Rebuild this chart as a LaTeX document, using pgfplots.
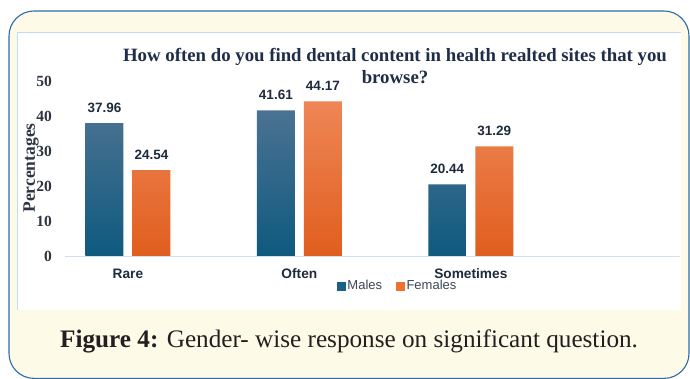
\documentclass[border=0pt]{standalone}
\usepackage{pgfplots}
\pgfplotsset{compat=1.18}
\usepackage{fontspec}
\setmainfont{Liberation Serif}
\setsansfont{Liberation Sans}
\definecolor{frameblue}{HTML}{2E6AA8}
\definecolor{cream}{HTML}{FEFAE8}
\definecolor{edgeblue}{HTML}{C5DAEE}
\definecolor{mtop}{HTML}{4B7292}
\definecolor{mbot}{HTML}{0E5A7E}
\definecolor{ftop}{HTML}{EE8656}
\definecolor{fbot}{HTML}{E05E1E}
\definecolor{mleg}{HTML}{1A6088}
\definecolor{fleg}{HTML}{F07030}
\definecolor{titlecol}{HTML}{1F2D48}
\definecolor{labcol}{HTML}{1E2B3C}
\definecolor{tickcol}{HTML}{2E3540}
\definecolor{legcol}{HTML}{3C4656}
\definecolor{capcol}{HTML}{231F20}
\definecolor{axisline}{HTML}{D2E0EE}
\begin{document}
\begin{tikzpicture}[x=1pt,y=1pt]
\useasboundingbox (0,0) rectangle (690,379);
\fill[white] (0,0) rectangle (690,379);
\filldraw[fill=cream, draw=frameblue, line width=1.1pt, rounded corners=25pt] (9,0.6) rectangle (689,368);
\fill[white] (17,69) rectangle (681,347);
\draw[edgeblue, line width=0.8pt] (17,69) -- (17,347) -- (681,347);
\node[anchor=base west, font=\fontsize{25.2}{29}\selectfont, text=capcol, inner sep=0pt] at (60,31) {\textbf{Figure 4:} Gender- wise response on significant question.};
\begin{axis}[
  at={(65pt,123pt)}, anchor=south west,
  width=615pt, height=175pt, scale only axis,
  xmin=-0.367, xmax=3.22, ymin=0, ymax=50,
  enlargelimits=false, clip=false,
  xtick={0,1,2}, xticklabels={Rare,Often,Sometimes},
  ytick={0,10,20,30,40,50},
  major tick length=0pt,
  axis x line=bottom, axis y line=left,
  x axis line style={-, draw=axisline, line width=0.8pt},
  y axis line style={draw=none},
  /pgf/number format/assume math mode=true,
  yticklabel style={font=\bfseries\fontsize{15.5}{17}\selectfont, text=tickcol, inner sep=0pt, anchor=east, xshift=-13pt},
  xticklabel style={font=\sffamily\bfseries\fontsize{13.7}{15}\selectfont, text=labcol, anchor=base, yshift=-23pt, inner sep=0pt},
  ylabel={Percentages},
  every axis y label/.style={at={(axis description cs:-0.0553,0.503)}, rotate=90, anchor=center, font=\bfseries\fontsize{17.5}{19}\selectfont, text=tickcol},
  title={How often do you find dental content in health realted sites that you\\browse?},
  every axis title/.style={at={(axis description cs:0.5366,1.0857)}, anchor=center, align=center, font=\bfseries\fontsize{18.8}{22}\selectfont, text=titlecol},
  nodes near coords={\pgfmathprintnumber[fixed,fixed zerofill,precision=2]{\pgfplotspointmeta}},
  every node near coord/.append style={font=\sffamily\bfseries\fontsize{13.5}{15}\selectfont, text=labcol, anchor=base, yshift=11pt, inner sep=0pt},
  legend style={at={(axis description cs:0.541,-0.171)}, anchor=center, draw=none, fill=none, legend columns=2, font=\sffamily\fontsize{13}{15}\selectfont, text=legcol, /tikz/every even column/.append style={column sep=12pt}},
]
\addplot[ybar, bar width=38pt, bar shift=-23.5pt, draw=none, top color=mtop, bottom color=mbot, forget plot, every node near coord/.append style={xshift=-23.5pt}] coordinates {(0,37.96) (1,41.61) (2,20.44)};
\addplot[ybar, bar width=38pt, bar shift=23.5pt, draw=none, top color=ftop, bottom color=fbot, forget plot, every node near coord/.append style={xshift=23.5pt}] coordinates {(0,24.54) (1,44.17) (2,31.29)};
\addlegendimage{legend image code/.code={\fill[mleg] (0pt,-4pt) rectangle (8pt,4pt);}}
\addlegendentry{Males}
\addlegendimage{legend image code/.code={\fill[fleg] (0pt,-4pt) rectangle (8pt,4pt);}}
\addlegendentry{Females}
\end{axis}
\end{tikzpicture}
\end{document}
